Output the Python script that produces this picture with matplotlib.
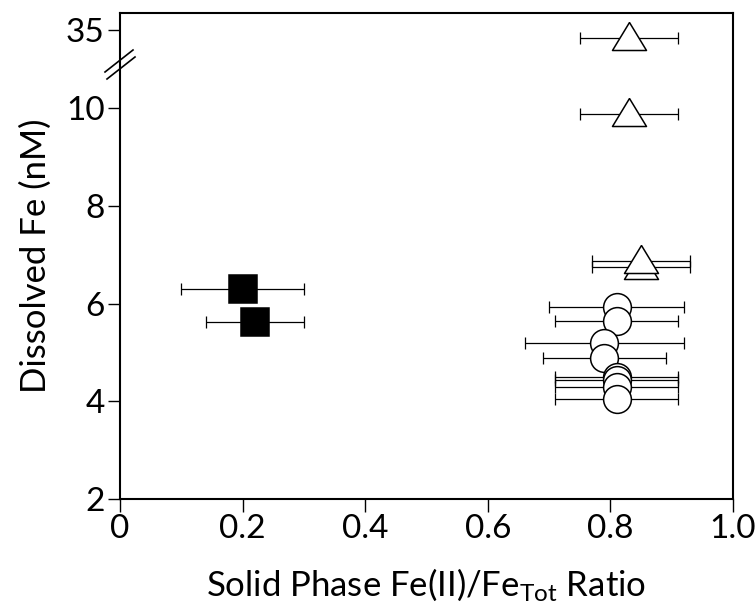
import numpy as np
import matplotlib
matplotlib.use("Agg")
import matplotlib.pyplot as plt

plt.rcParams['font.family'] = ['Lato', 'DejaVu Sans']
plt.rcParams['mathtext.fontset'] = 'custom'
plt.rcParams['mathtext.rm'] = 'Lato'
plt.rcParams['mathtext.it'] = 'Lato:italic'

# solid phase ratio (x), dissolved Fe in nM (y), x error
sq_x = [0.20, 0.22]
sq_y = [6.31, 5.63]
sq_xerr = [0.10, 0.08]

tri_x = [0.85, 0.85, 0.83, 0.83]
tri_y = [6.76, 6.88, 9.88, 32.5]
tri_xerr = [0.08, 0.08, 0.08, 0.08]

circ_x = [0.81, 0.81, 0.79, 0.79, 0.81, 0.81, 0.81, 0.81]
circ_y = [5.94, 5.65, 5.20, 4.88, 4.50, 4.44, 4.30, 4.05]
circ_xerr = [0.11, 0.10, 0.13, 0.10, 0.10, 0.10, 0.10, 0.10]

y_ticks = [2, 4, 6, 8, 10, 35]
x_ticks = [0, 0.2, 0.4, 0.6, 0.8, 1.0]
x_ticklabels = ['0', '0.2', '0.4', '0.6', '0.8', '1.0']

# squeeze everything above 10 nM so the 35 nM point fits
K = 0.064


def fwd(y):
    y = np.asarray(y, dtype=float)
    return np.where(y <= 10, y, 10 + (y - 10) * K)


def inv(t):
    t = np.asarray(t, dtype=float)
    return np.where(t <= 10, t, 10 + (t - 10) / K)


tri_marker = [(0, 16), (-17, -12), (17, -12), (0, 16)]

fig = plt.figure(figsize=(7.56, 6.10), dpi=100)
ax = fig.add_axes([120 / 756, 111 / 610, 613 / 756, 486 / 610])
ax.set_yscale('function', functions=(fwd, inv))


def draw_points(xs, ys, errs, marker, ms, face, z0):
    z = z0
    for x, y, e in zip(xs, ys, errs):
        ax.errorbar([x], [y], xerr=[e], fmt='none', ecolor='black',
                    elinewidth=0.9, capsize=4, capthick=0.9, zorder=z)
        ax.plot([x], [y], marker=marker, ms=ms, mfc=face, mec='black',
                mew=1.1, ls='none', zorder=z + 0.5)
        z += 1


draw_points(sq_x, sq_y, sq_xerr, 's', 19.5, 'black', 3)
draw_points(tri_x, tri_y, tri_xerr, tri_marker, 24.5, 'white', 10)
draw_points(circ_x, circ_y, circ_xerr, 'o', 20, 'white', 20)

ax.set_xlim(0, 1.0)
ax.set_ylim(2, 40.5)
ax.set_xticks(x_ticks)
ax.set_xticklabels(x_ticklabels)
ax.set_yticks(y_ticks)
ax.set_yticklabels([str(t) for t in y_ticks])
ax.yaxis.set_minor_locator(matplotlib.ticker.NullLocator())
ax.tick_params(axis='both', direction='out', length=9, width=1.0,
               labelsize=24, pad=2, top=False, right=False)

for sp in ax.spines.values():
    sp.set_linewidth(1.5)

ax.set_xlabel('Solid Phase Fe(II)/Fe$_{\\mathrm{Tot}}$ Ratio', fontsize=25, labelpad=16)
ax.set_ylabel('Dissolved Fe (nM)', fontsize=25, labelpad=10)

# axis break marks on the left spine
for dx, dy in [(0, 0), (2, 7)]:
    px = np.array([105, 133]) + dx
    py = np.array([72, 50]) + dy
    ax.plot((px - 120) / 613, (499 - py) / 486, color='black', lw=1.2,
            transform=ax.transAxes, clip_on=False, zorder=50)

fig.savefig('out.png', dpi=100)
